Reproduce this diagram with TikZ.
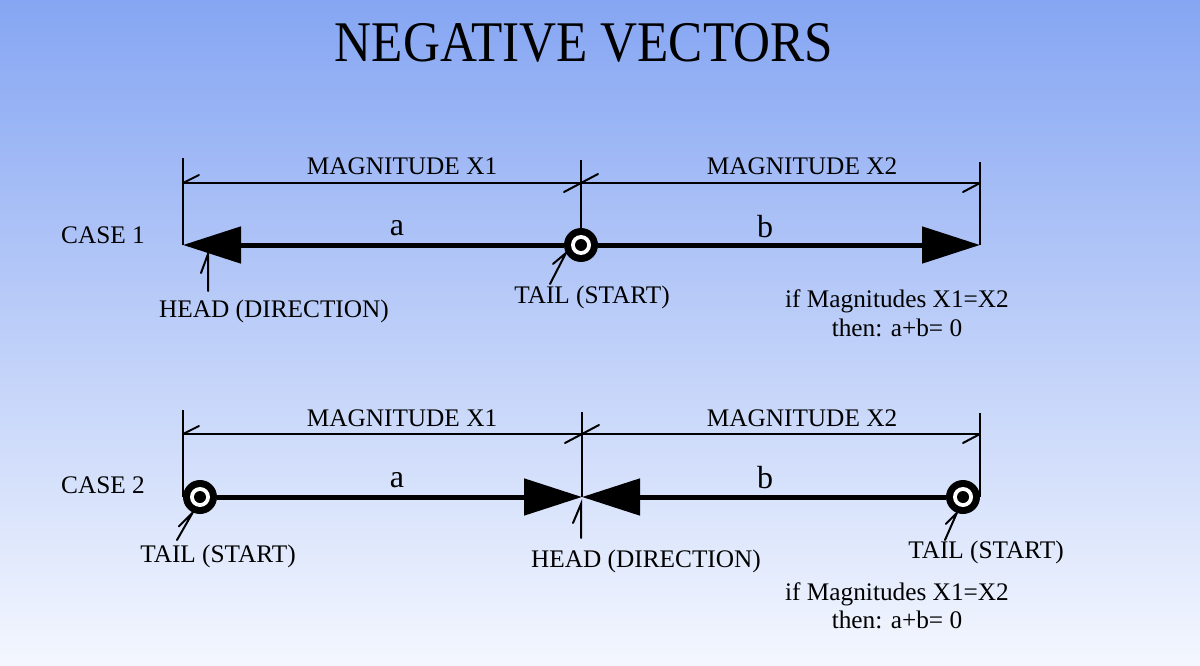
\documentclass[tikz,border=0pt]{standalone}
\usepackage{fontspec}
\setmainfont{Liberation Serif}
\newfontfamily\titlefont[FakeStretch=0.89]{Liberation Serif}
\usetikzlibrary{arrows.meta}
\definecolor{bgtop}{RGB}{134,166,243}
\definecolor{bgbot}{RGB}{244,247,254}
\newcommand\tailcore[1]{\fill[white] (#1.center) circle (10pt); \fill (#1.center) circle (6pt);}
\begin{document}
\begin{tikzpicture}[x=1pt,y=-1pt,
  lbl/.style={font=\fontsize{25.3}{29.5}\selectfont, inner sep=0pt, anchor=base},
  letter/.style={font=\fontsize{32}{36}\selectfont, inner sep=0pt, anchor=base},
  vec/.style={line width=5pt, -{Triangle[length=58pt,width=36pt]}},
  thinline/.style={line width=2pt},
  barb/.style={line width=2pt, line cap=round},
  tailmark/.style={circle, fill=black, minimum size=34pt, inner sep=0pt, outer sep=0pt},
]
\useasboundingbox (0,0) rectangle (1200,666);
\fill[top color=bgtop, bottom color=bgbot] (0,0) rectangle (1200,666);

% title
\node[inner sep=0pt, anchor=base, font=\titlefont\fontsize{57.5}{60}\selectfont] (title) at (584,62) {NEGATIVE VECTORS};

% ---------------- CASE 1 ----------------
\coordinate (A1) at (183,245);
\coordinate (B1) at (980,245);
\node[tailmark] (T1) at (581,245) {};
\tailcore{T1}
\coordinate (DA1) at (183,183);
\coordinate (DM1) at (581,183);
\coordinate (DB1) at (980,183);
\coordinate (EA1) at (183,158);
\coordinate (EM1) at (581,160);
\coordinate (EB1) at (980,162);

\draw[thinline] (EA1) -- (A1);
\draw[thinline] (EM1) -- (T1.north);
\draw[thinline] (EB1) -- (B1);
\draw[thinline] (DA1) -- (DM1);
\draw[thinline] (DM1) -- (DB1);
% dimension barbs
\draw[barb] (DA1) -- ++(16,-8);
\draw[barb] (DM1) -- ++(-17,9) (DM1) -- ++(17,-9);
\draw[barb] (DB1) -- ++(-17,9);
\draw[vec] (T1) -- (A1);
\draw[vec] (T1) -- (B1);

\node[lbl] (mx11) at (402,175) {MAGNITUDE X1};
\node[lbl] (mx21) at (802,175) {MAGNITUDE X2};
\node[letter] (la1) at (397,235) {a};
\node[letter] (lb1) at (765,237) {b};
\node[lbl, anchor=base west] (case1) at (61,243) {CASE 1};
\node[lbl] (head1) at (274,317) {HEAD (DIRECTION)};
\node[lbl] (tail1) at (592,303) {TAIL (START)};
\node[lbl] (if1) at (897,307) {if Magnitudes X1=X2};
\node[lbl] (then1) at (897,336) {then: a+b= 0};

\coordinate (ph1s) at (208,291);
\coordinate (ph1e) at (208,254);
\draw[barb] (ph1s) -- (ph1e) -- ++(-7,19);
\coordinate (pt1s) at (550,284);
\draw[barb] (pt1s) -- (T1.208) -- ++(-13,11);

% ---------------- CASE 2 ----------------
\node[tailmark] (TA2) at (200,497) {};
\tailcore{TA2}
\node[tailmark] (TB2) at (963,497) {};
\tailcore{TB2}
\coordinate (M2) at (582,497);
\coordinate (DA2) at (183,434);
\coordinate (DM2) at (582,434);
\coordinate (DB2) at (980,434);
\coordinate (EA2) at (183,410);
\coordinate (EM2) at (582,412);
\coordinate (EB2) at (980,413);

\draw[thinline] (EA2) -- (TA2.west);
\draw[thinline] (EM2) -- (M2);
\draw[thinline] (EB2) -- (TB2.east);
\draw[thinline] (DA2) -- (DM2);
\draw[thinline] (DM2) -- (DB2);
\draw[barb] (DA2) -- ++(16,-8);
\draw[barb] (DM2) -- ++(-17,9) (DM2) -- ++(17,-9);
\draw[barb] (DB2) -- ++(-17,9);
\draw[vec] (TA2) -- (M2);
\draw[vec] (TB2) -- (M2);

\node[lbl] (mx12) at (402,426) {MAGNITUDE X1};
\node[lbl] (mx22) at (802,426) {MAGNITUDE X2};
\node[letter] (la2) at (397,487) {a};
\node[letter] (lb2) at (765,488) {b};
\node[lbl, anchor=base west] (case2) at (61,493) {CASE 2};
\node[lbl] (tail2a) at (218,562) {TAIL (START)};
\node[lbl] (head2) at (646,567) {HEAD (DIRECTION)};
\node[lbl] (tail2b) at (986,558) {TAIL (START)};
\node[lbl] (if2) at (897,600) {if Magnitudes X1=X2};
\node[lbl] (then2) at (897,628) {then: a+b= 0};

\coordinate (pt2as) at (177,540);
\draw[barb] (pt2as) -- (TA2.245) -- ++(-14,14);
\coordinate (ph2s) at (581,538);
\coordinate (ph2e) at (581,504);
\draw[barb] (ph2s) -- (ph2e) -- ++(-8,19);
\coordinate (pt2bs) at (945,540);
\draw[barb] (pt2bs) -- (TB2.249) -- ++(-11,11);
\end{tikzpicture}
\end{document}
